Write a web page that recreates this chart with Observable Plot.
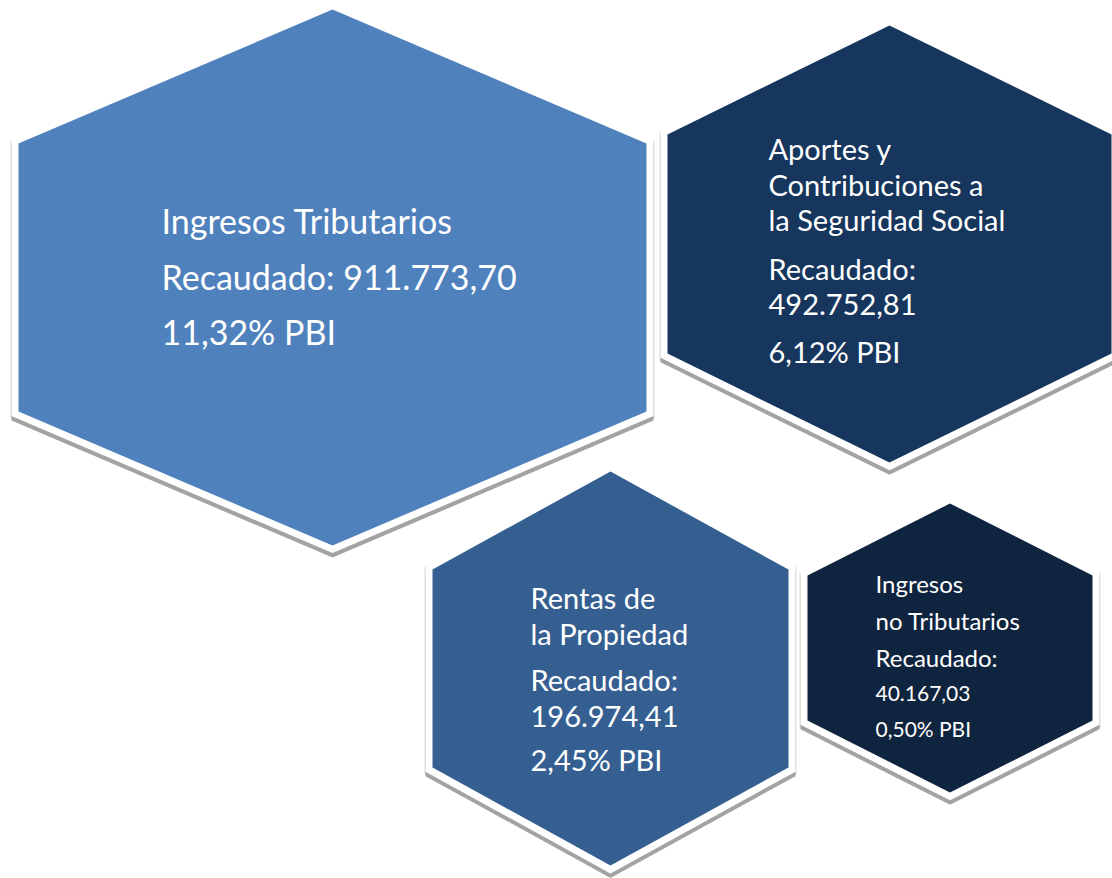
<!DOCTYPE html>
<html>
<head>
<meta charset="utf-8">
<script src="https://cdn.jsdelivr.net/npm/d3@7"></script>
<script src="https://cdn.jsdelivr.net/npm/@observablehq/plot@0.6"></script>
<style>
  html, body { margin: 0; padding: 0; background: #ffffff; }
  #chart svg { display: block; }
</style>
</head>
<body>
<div id="chart"></div>
<script>
// ---- data ----
const categories = [
  "Ingresos Tributarios",
  "Aportes y\nContribuciones a\nla Seguridad Social",
  "Rentas de\nla Propiedad",
  "Ingresos\nno Tributarios"
];
const recaudado = [911773.70, 492752.81, 196974.41, 40167.03];
const pbiPct = [11.32, 6.12, 2.45, 0.50];
const colors = ["#4F81BD", "#17365D", "#365F91", "#0F243E"];

// ---- layout (positions / sizes) ----
const layout = [
  {cx: 332, cy: 277, w: 314, h1: 134, h2: 268, tx: 161, join: true,
   base: [233, 289, 344], size: [34, 34, 34]},
  {cx: 889, cy: 243.5, w: 222, h1: 109.5, h2: 218.5, tx: 768, join: false,
   base: [159, 195, 230, 279, 314, 362], size: [29, 29, 29, 29, 29, 29]},
  {cx: 610, cy: 668, w: 178, h1: 99, h2: 197, tx: 530, join: false,
   base: [608, 644, 690, 726, 770], size: [29, 29, 29, 29, 29]},
  {cx: 949.5, cy: 647.5, w: 142.5, h1: 72.5, h2: 144.5, tx: 875, join: false,
   base: [592, 629, 666, 700, 736], size: [24, 24, 24, 21, 21]}
];

const locale = d3.formatLocale({decimal: ",", thousands: ".", grouping: [3], currency: ["", ""]});
const fmtNum = locale.format(",.2f");
const fmtPct = locale.format(".2f");

// hexagon vertices, expanded outward by d and shifted down by dy
function hex(L, d, dy, id) {
  const theta = Math.atan2(L.h2 - L.h1, L.w);
  const tipOff = d / Math.cos(theta);
  const w = L.w + d;
  const sideOff = tipOff - d * Math.tan(theta);
  const top = L.cy - L.h2 - tipOff + dy;
  const bot = L.cy + L.h2 + tipOff + dy;
  const ut = L.cy - L.h1 - sideOff + dy;
  const lb = L.cy + L.h1 + sideOff + dy;
  const pts = [
    [L.cx, top], [L.cx + w, ut], [L.cx + w, lb],
    [L.cx, bot], [L.cx - w, lb], [L.cx - w, ut], [L.cx, top]
  ];
  return pts.map(([x, y], i) => ({id, i, x, y}));
}

const marks = [];
const polyMark = (rows, fill) => Plot.line(rows, {x: "x", y: "y", fill, stroke: "none", curve: "linear"});

layout.forEach((L, k) => marks.push(polyMark(hex(L, 8, 2, k), "#dedede")));
layout.forEach((L, k) => marks.push(polyMark(hex(L, 7, 4.5, k), "#a3a3a3")));
layout.forEach((L, k) => marks.push(polyMark(hex(L, 7, 0, k), "#ffffff")));
layout.forEach((L, k) => marks.push(polyMark(hex(L, 0, 0, k), colors[k])));

// text lines
const lines = [];
categories.forEach((c, k) => {
  const L = layout[k];
  const parts = c.split("\n");
  if (L.join) parts.push("Recaudado: " + fmtNum(recaudado[k]));
  else parts.push("Recaudado:", fmtNum(recaudado[k]));
  parts.push(fmtPct(pbiPct[k]) + "% PBI");
  parts.forEach((t, j) => lines.push({text: t, x: L.tx, y: L.base[j], size: L.size[j]}));
});

const sizes = [...new Set(lines.map(d => d.size))];
sizes.forEach(s => {
  marks.push(Plot.text(lines.filter(d => d.size === s), {
    x: "x", y: "y", text: "text", fill: "#ffffff", fontSize: s,
    textAnchor: "start", lineAnchor: "bottom", fontFamily: "Lato"
  }));
});

const chart = Plot.plot({
  width: 1112,
  height: 878,
  margin: 0,
  style: {background: "#ffffff", fontFamily: "Lato"},
  x: {domain: [0, 1112], range: [0, 1112], axis: null},
  y: {domain: [0, 878], range: [0, 878], axis: null},
  marks
});
document.getElementById("chart").appendChild(chart);
</script>
</body>
</html>
